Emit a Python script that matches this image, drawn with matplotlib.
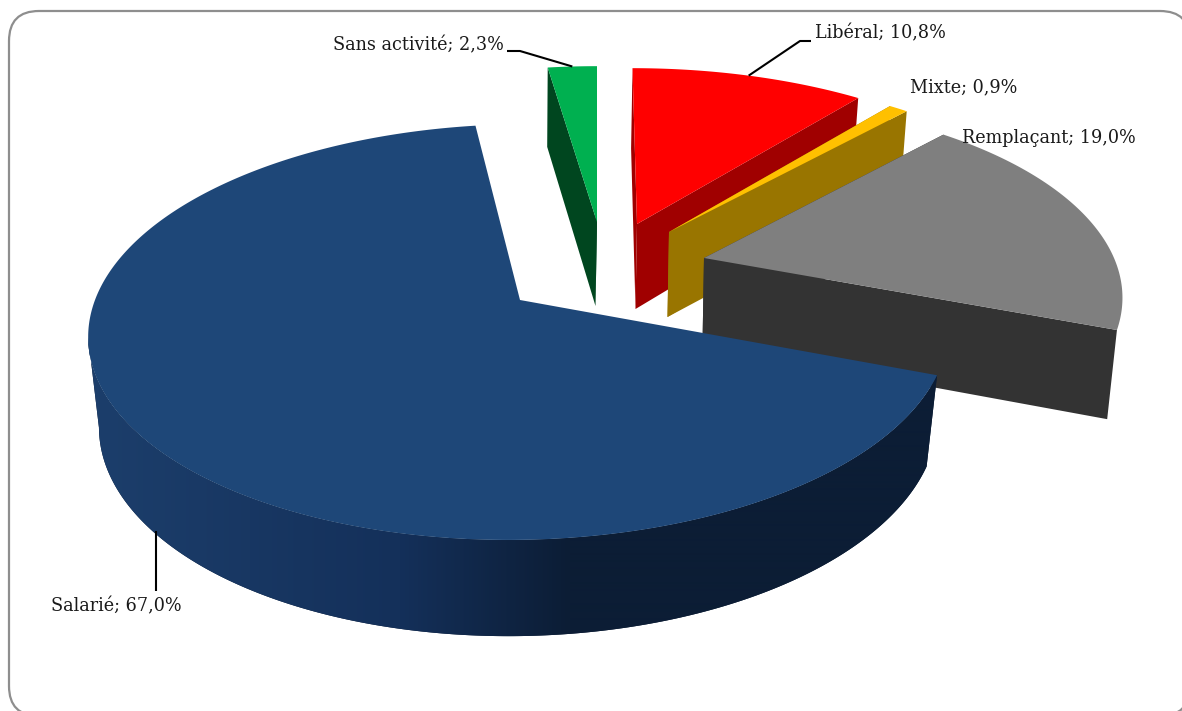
import numpy as np
import matplotlib
matplotlib.use("Agg")
import matplotlib.pyplot as plt
from matplotlib.patches import FancyBboxPatch, Polygon
from matplotlib.colors import to_rgb

# ---- data ---------------------------------------------------------------
categories = ["Libéral", "Mixte", "Remplaçant", "Salarié", "Sans activité"]
values = [10.8, 0.9, 19.0, 67.0, 2.3]
value_labels = ["10,8%", "0,9%", "19,0%", "67,0%", "2,3%"]

# ---- styles and 3D-view geometry (Excel-like exploded perspective pie) --
W, H = 1182, 711
colors = {"Libéral": "#FF0000", "Mixte": "#FFC000", "Remplaçant": "#7F7F7F",
          "Salarié": "#1E4778", "Sans activité": "#00B050"}
dark = {"Libéral": "#A00000", "Mixte": "#997500", "Remplaçant": "#333333",
        "Salarié": "#0C1D35", "Sans activité": "#00461F"}
small = dict(rx=410, ry=187, k=0.20, sx=0.98, sy=1.03, dx=-1.5)
view = {
    "Libéral": dict(small, tip=(637, 224), depth=85, skew=-5.4, rx=414),
    "Mixte": dict(small, tip=(669, 232), depth=85, skew=0, rx=407),
    "Remplaçant": dict(small, tip=(704, 258), depth=87, skew=0, ry=191),
    "Salarié": dict(rx=425, ry=203, k=0.154, sx=0.975, sy=1.03, dx=0,
                    tip=(520, 300), depth=89, skew=10),
    "Sans activité": dict(small, tip=(597, 222), depth=84, skew=0),
}
label_pos = {"Libéral": (815, 33), "Mixte": (910, 87), "Remplaçant": (962, 138),
             "Salarié": (51, 606), "Sans activité": (333, 45)}
draw_order = ["Sans activité", "Libéral", "Mixte", "Remplaçant", "Salarié"]
FONT = "DejaVu Serif"
FONTSIZE = 12.7

# ---- projection ---------------------------------------------------------
def top(v, theta):
    """Clockwise angle from 12 o'clock -> pixel on the slice's upper rim."""
    u, w = np.sin(theta), np.cos(theta)
    s = 1 / (1 + v["k"] * w)
    return (v["tip"][0] + (v["rx"] * u + v["skew"] * w) * s,
            v["tip"][1] - v["ry"] * w * s)

def bottom(v, theta):
    x, y = top(v, theta)
    return (v["tip"][0] + v["dx"] + (x - v["tip"][0]) * v["sx"],
            v["tip"][1] + v["depth"] + (y - v["tip"][1]) * v["sy"])

def bottom_tip(v):
    return (v["tip"][0] + v["dx"], v["tip"][1] + v["depth"])

edges = np.radians(np.concatenate([[0], np.cumsum(values)]) / np.sum(values) * 360)
spans = {c: (edges[i], edges[i + 1]) for i, c in enumerate(categories)}

fig = plt.figure(figsize=(W / 100, H / 100), dpi=100, facecolor="white")
ax = fig.add_axes([0, 0, 1, 1])
ax.axis("off")

frame = FancyBboxPatch((9, 11), 1181, 705, boxstyle="round,pad=0,rounding_size=30",
                       fc="white", ec="#8E8E8E", lw=1.6, zorder=0)
ax.add_patch(frame)

grad_x = np.array([100, 400, 570, 940])
grad_c = np.array([to_rgb("#1C3E6B"), to_rgb("#14305A"), to_rgb("#0C1D35"), to_rgb("#0C1D35")])

for z, cat in enumerate(draw_order, start=1):
    v = view[cat]
    a0, a1 = spans[cat]
    ts = np.linspace(a0, a1, max(6, int(np.degrees(a1 - a0) * 2)))
    up = np.array([top(v, t) for t in ts])
    zo = z * 2
    if cat == "Salarié":
        # outer wall, shaded from left to right, up to the leftmost silhouette point
        tw = np.linspace(a0, a1, 800)
        wu = np.array([top(v, t) for t in tw])
        stop = int(np.argmin(wu[:, 0])) + 1
        tw, wu = tw[:stop], wu[:stop]
        wl = np.array([bottom(v, t) for t in tw])
        wall = Polygon(np.vstack([wu, wl[::-1]]), closed=True, fc=dark[cat], ec="none", zorder=zo)
        ax.add_patch(wall)
        xs = np.linspace(60, 960, 900)
        grad = np.stack([np.interp(xs, grad_x, grad_c[:, i]) for i in range(3)], axis=-1)[None, :, :]
        im = ax.imshow(grad, extent=(60, 960, 660, 200), aspect="auto", zorder=zo,
                       interpolation="bilinear")
        im.set_clip_path(wall)
    else:
        for t in (a0, a1):
            face = [v["tip"], top(v, t), bottom(v, t), bottom_tip(v)]
            ax.add_patch(Polygon(face, closed=True, fc=dark[cat], ec="none", zorder=zo))
    poly = np.vstack([[v["tip"]], up])
    ax.add_patch(Polygon(poly, closed=True, fc=colors[cat], ec="none", zorder=zo + 1))

ax.set_xlim(0, W)
ax.set_ylim(H, 0)

# ---- leader lines -------------------------------------------------------
def leader(points):
    xs, ys = zip(*points)
    ax.plot(xs, ys, color="black", lw=1.5, zorder=20, solid_capstyle="butt",
            solid_joinstyle="round")

mid = {c: (a + b) / 2 for c, (a, b) in spans.items()}
leader([top(view["Sans activité"], mid["Sans activité"]), (520, 51), (507, 51)])
leader([top(view["Libéral"], mid["Libéral"]), (800, 41), (811, 41)])
sx_, sy_ = bottom(view["Salarié"], mid["Salarié"])
leader([(sx_, sy_ - 3), (sx_, 591)])

# ---- labels -------------------------------------------------------------
for cat, val in zip(categories, value_labels):
    x, y = label_pos[cat]
    ax.text(x, y, f"{cat}; {val}", family=FONT, fontsize=FONTSIZE, color="#1A1A1A",
            ha="left", va="center", zorder=30)

fig.savefig("out.png", dpi=100, facecolor="white")
